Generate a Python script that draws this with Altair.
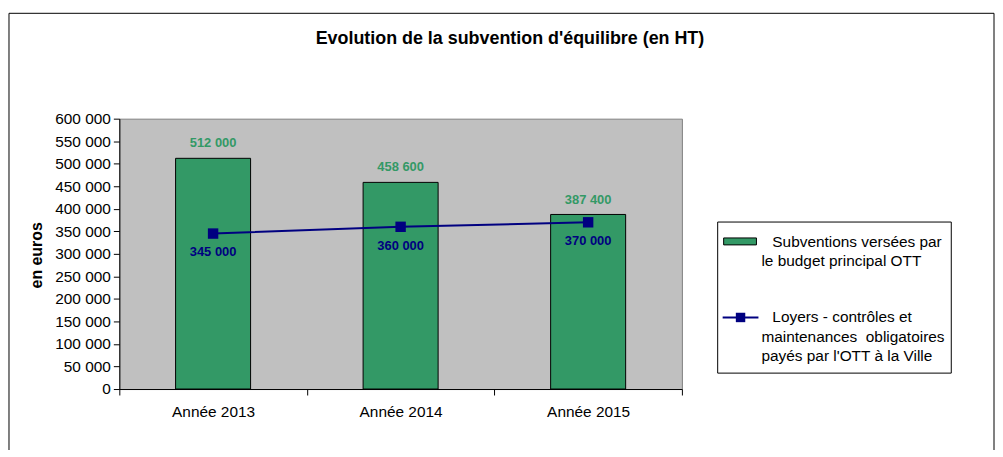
import altair as alt
import pandas as pd

years = ["Année 2013", "Année 2014", "Année 2015"]
subventions = [512000, 458600, 387400]
loyers = [345000, 360000, 370000]
y_ticks = list(range(0, 600001, 50000))

title_text = "Evolution de la subvention d'équilibre (en HT)"
leg1 = ["Subventions versées par", "le budget principal OTT"]
leg2 = ["Loyers - contrôles et", "maintenances \u00a0obligatoires", "payés par l'OTT à la Ville"]

GREEN = "#339966"
NAVY = "#000080"
FONT = "Liberation Sans"

df = pd.DataFrame({"year": years, "sub": subventions, "loy": loyers})
one = pd.DataFrame({"a": [0]})

xaxis = alt.Axis(tickBand="extent", labelAngle=0, labelFontSize=15.5,
                 labelColor="black", domainColor="black", tickColor="black",
                 tickSize=6, labelPadding=10, labelFont=FONT)
xscale = alt.Scale(paddingInner=0, paddingOuter=0)
yaxis = alt.Axis(values=y_ticks, tickCount=30, format=",d", grid=False, labelFontSize=15.5,
                 labelOverlap=False,
                 labelColor="black", domainColor="black", tickColor="black",
                 tickSize=6, labelPadding=3, labelFont=FONT,
                 title="en euros", titleFont=FONT, titleFontSize=16,
                 titleFontWeight="bold", titleX=-83, titleY=137,
                 titleAlign="center", titleBaseline="middle", titleAngle=270)
yscale = alt.Scale(domain=[0, 600000], nice=False)

def X():
    return alt.X("year:N", sort=years, title=None, scale=xscale, axis=xaxis)

def Y(f):
    return alt.Y(f, scale=yscale, axis=yaxis)

base = alt.Chart(df)
bars = base.mark_bar(width={"band": 0.4}, color=GREEN, stroke="black", strokeWidth=1).encode(
    x=X(), y=Y("sub:Q"))
bar_lbl = base.mark_text(dy=-15, fontSize=13, fontWeight="bold", color=GREEN, font=FONT).encode(
    x=X(), y=Y("sub:Q"), text=alt.Text("sub:Q", format=",d"))
line = base.mark_line(color=NAVY, strokeWidth=2).encode(x=X(), y=Y("loy:Q"))
pts = base.mark_point(shape="square", filled=True, size=110, color=NAVY, opacity=1).encode(
    x=X(), y=Y("loy:Q"))
line_lbl = base.mark_text(dy=19, fontSize=13, fontWeight="bold", color=NAVY, font=FONT).encode(
    x=X(), y=Y("loy:Q"), text=alt.Text("loy:Q", format=",d"))

def txt(s, x, y, **kw):
    return alt.Chart(one).mark_text(text=s, align=kw.pop("align", "left"), baseline="middle",
                                    fontSize=kw.pop("size", 15.5), font=FONT, color="black", **kw).encode(
        x=alt.value(x), y=alt.value(y))

def rule(x, y, x2, y2, color="black", w=1):
    return alt.Chart(one).mark_rule(color=color, strokeWidth=w).encode(
        x=alt.value(x), y=alt.value(y), x2=alt.value(x2), y2=alt.value(y2))

frame = [rule(-111, -106, 880, -106), rule(-111, -106, -111, 345), rule(880, -106, 880, 345)]
title = txt(title_text, 393, -80, align="center", size=18, fontWeight="bold")

leg_box = alt.Chart(one).mark_rect(fill="white", stroke="black", strokeWidth=1).encode(
    x=alt.value(602), x2=alt.value(837), y=alt.value(104), y2=alt.value(256))
leg_sw = alt.Chart(one).mark_rect(fill=GREEN, stroke="black", strokeWidth=1).encode(
    x=alt.value(608), x2=alt.value(641), y=alt.value(120), y2=alt.value(127))
leg_line = rule(607, 200, 643, 200, color=NAVY, w=2)
leg_pt = alt.Chart(one).mark_point(shape="square", filled=True, size=90, color=NAVY, opacity=1).encode(
    x=alt.value(625), y=alt.value(200))
leg_texts = [txt(leg1[0], 657, 124), txt(leg1[1], 646, 143),
             txt(leg2[0], 657, 200), txt(leg2[1], 646, 220), txt(leg2[2], 646, 239)]

chart = alt.layer(bars, bar_lbl, line, pts, line_lbl, *frame, title,
                  leg_box, leg_sw, leg_line, leg_pt, *leg_texts).properties(
    width=566, height=272,
    autosize=alt.AutoSizeParams(type="none"),
    padding={"left": 112, "top": 110, "right": 315, "bottom": 60},
).configure(
    locale={"number": {"decimal": ",", "thousands": " ", "grouping": [3], "currency": ["", " €"]}}
).configure_view(fill="#C0C0C0", stroke="#808080", strokeWidth=1)

chart.save("out.html", embed_options={"renderer": "svg", "actions": False})
